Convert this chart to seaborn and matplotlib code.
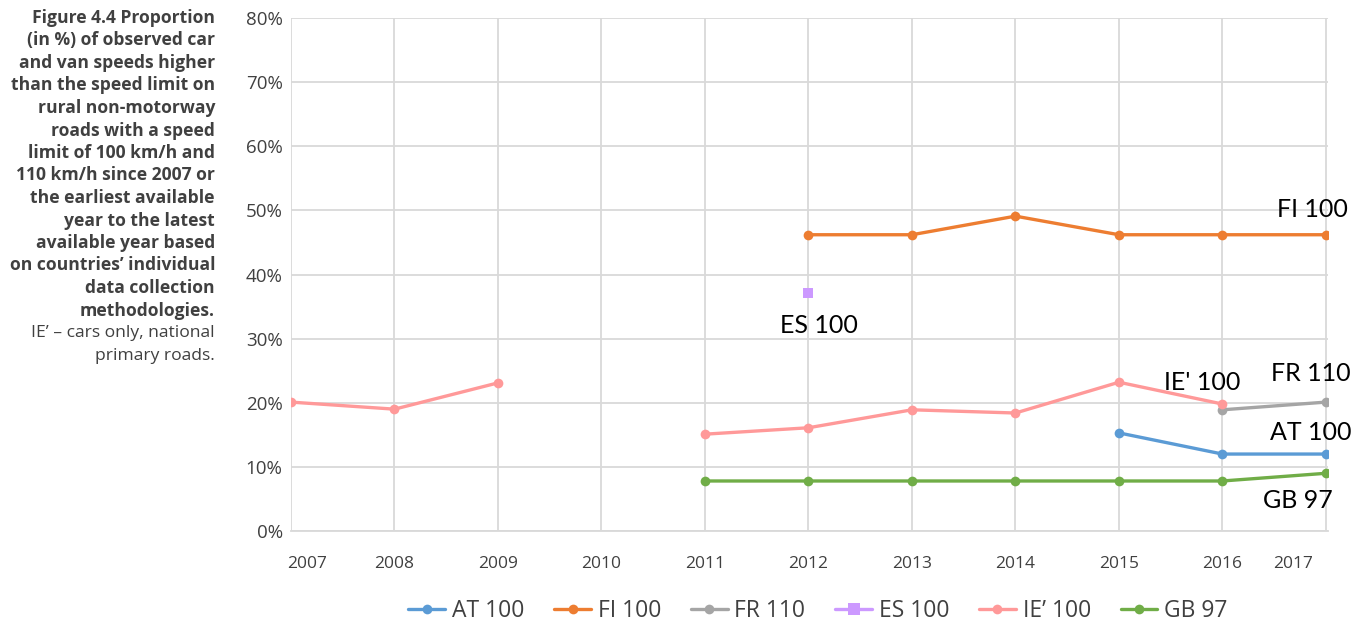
import matplotlib
matplotlib.use("Agg")
import matplotlib.pyplot as plt
import matplotlib.transforms as mtransforms
from matplotlib.lines import Line2D
import seaborn as sns
import pandas as pd
import numpy as np

# ---- data ----
years = [2007, 2008, 2009, 2010, 2011, 2012, 2013, 2014, 2015, 2016, 2017]
at_years = [2015, 2016, 2017]
at_vals = [15.3, 12.0, 12.0]
fi_years = [2012, 2013, 2014, 2015, 2016, 2017]
fi_vals = [46.2, 46.2, 49.1, 46.2, 46.2, 46.2]
fr_years = [2016, 2017]
fr_vals = [18.9, 20.1]
es_years = [2012]
es_vals = [37.1]
ie_years_a = [2007, 2008, 2009]
ie_vals_a = [20.1, 19.0, 23.1]
ie_years_b = [2011, 2012, 2013, 2014, 2015, 2016]
ie_vals_b = [15.1, 16.1, 18.9, 18.4, 23.2, 19.8]
gb_years = [2011, 2012, 2013, 2014, 2015, 2016, 2017]
gb_vals = [7.8, 7.8, 7.8, 7.8, 7.8, 7.8, 9.0]

series_names = ["AT 100", "FI 100", "FR 110", "ES 100", "IE\u2019 100", "GB 97"]
colors = ["#5B9BD5", "#ED7D31", "#A5A5A5", "#CC99FF", "#FF9999", "#70AD47"]
label_texts = ["AT 100", "FI 100", "FR 110", "ES 100", "IE' 100", "GB 97"]

caption_bold = ["Figure 4.4 Proportion", "(in %) of observed car", "and van speeds higher",
                "than the speed limit on", "rural non-motorway", "roads with a speed",
                "limit of 100 km/h and", "110 km/h since 2007 or", "the earliest available",
                "year to the latest", "available year based", "on countries\u2019 individual",
                "data collection", "methodologies."]
caption_note = ["IE\u2019 \u2013 cars only, national", "primary roads."]

rows = []
def add(name, seg, xs, vs):
    for x, v in zip(xs, vs):
        rows.append({"series": name, "segment": seg, "year": x, "value": v})

add("AT 100", "AT", at_years, at_vals)
add("FI 100", "FI", fi_years, fi_vals)
add("FR 110", "FR", fr_years, fr_vals)
add("ES 100", "ES", es_years, es_vals)
add("IE\u2019 100", "IEa", ie_years_a, ie_vals_a)
add("IE\u2019 100", "IEb", ie_years_b, ie_vals_b)
add("GB 97", "GB", gb_years, gb_vals)
df = pd.DataFrame(rows)

sns.set_theme(style="white")
plt.rcParams['font.family'] = ['Open Sans', 'DejaVu Sans']

fig = plt.figure(figsize=(13.65, 6.26), dpi=100)
ax = fig.add_axes([291 / 1365, 1 - 531 / 626, (1328 - 291) / 1365, (531 - 18) / 626])

palette = dict(zip(series_names, colors))
markers = {n: ("s" if n == "ES 100" else "o") for n in series_names}
sns.lineplot(data=df, x="year", y="value", hue="series", style="series",
             units="segment", estimator=None, palette=palette, markers=markers,
             dashes=False, linewidth=2.4, markersize=7, markeredgewidth=0,
             sort=True, legend=False, ax=ax, zorder=3)

ax.set_xlim(2007, 2017.02)
ax.set_ylim(0, 80)
ax.set_xticks(years)
ax.set_xticklabels([str(y) for y in years])
ax.set_yticks(np.arange(0, 81, 10))
ax.set_yticklabels([f"{v}%" for v in range(0, 81, 10)])
ax.grid(True, color="#D9D9D9", linewidth=1.3)
ax.set_axisbelow(True)
for s in ["top", "right", "left"]:
    ax.spines[s].set_visible(False)
ax.spines["bottom"].set_color("#D9D9D9")
ax.spines["bottom"].set_linewidth(1.3)
ax.set_xlabel("")
ax.set_ylabel("")
ax.tick_params(axis="x", length=0, pad=18, labelsize=12.5, labelcolor="#404040")
ax.tick_params(axis="y", length=0, pad=6, labelsize=13.5, labelcolor="#404040")

xl = ax.get_xticklabels()
xl[0].set_ha("left")
xl[0].set_transform(xl[0].get_transform() + mtransforms.ScaledTranslation(-4 / 100, 0, fig.dpi_scale_trans))
xl[-1].set_ha("right")
xl[-1].set_transform(xl[-1].get_transform() + mtransforms.ScaledTranslation(-13 / 100, 0, fig.dpi_scale_trans))

# series labels
label_pos = {
    "AT 100": (2016.85, 15.4),
    "FI 100": (2016.87, 50.1),
    "FR 110": (2016.85, 24.6),
    "ES 100": (2012.1, 32.1),
    "IE' 100": (2015.8, 23.1),
    "GB 97": (2016.73, 4.7),
}
for t in label_texts:
    x, y = label_pos[t]
    ax.text(x, y, t, ha="center", va="center", fontsize=18, color="#000000",
            family=["Lato", "DejaVu Sans"], zorder=5)

# legend
handles = [Line2D([0], [0], color=c, lw=2.4, marker=("s" if n == "ES 100" else "o"),
                  markersize=(8.5 if n == "ES 100" else 7), markeredgewidth=0)
           for n, c in zip(series_names, colors)]
leg = fig.legend(handles, series_names, loc="center", bbox_to_anchor=(818 / 1365, 1 - 611 / 626),
                 ncol=6, frameon=False, fontsize=16.5, handlelength=1.6, columnspacing=1.3,
                 handletextpad=0.3)
for t in leg.get_texts():
    t.set_color("#404040")

# caption
for i, line in enumerate(caption_bold + caption_note):
    y = 18 + i * 22.5
    fig.text(215 / 1365, 1 - y / 626, line, ha="right", va="center", fontsize=12.6,
             fontweight=("bold" if i < len(caption_bold) else "normal"), color="#404040")

fig.savefig("out.png", dpi=100)
